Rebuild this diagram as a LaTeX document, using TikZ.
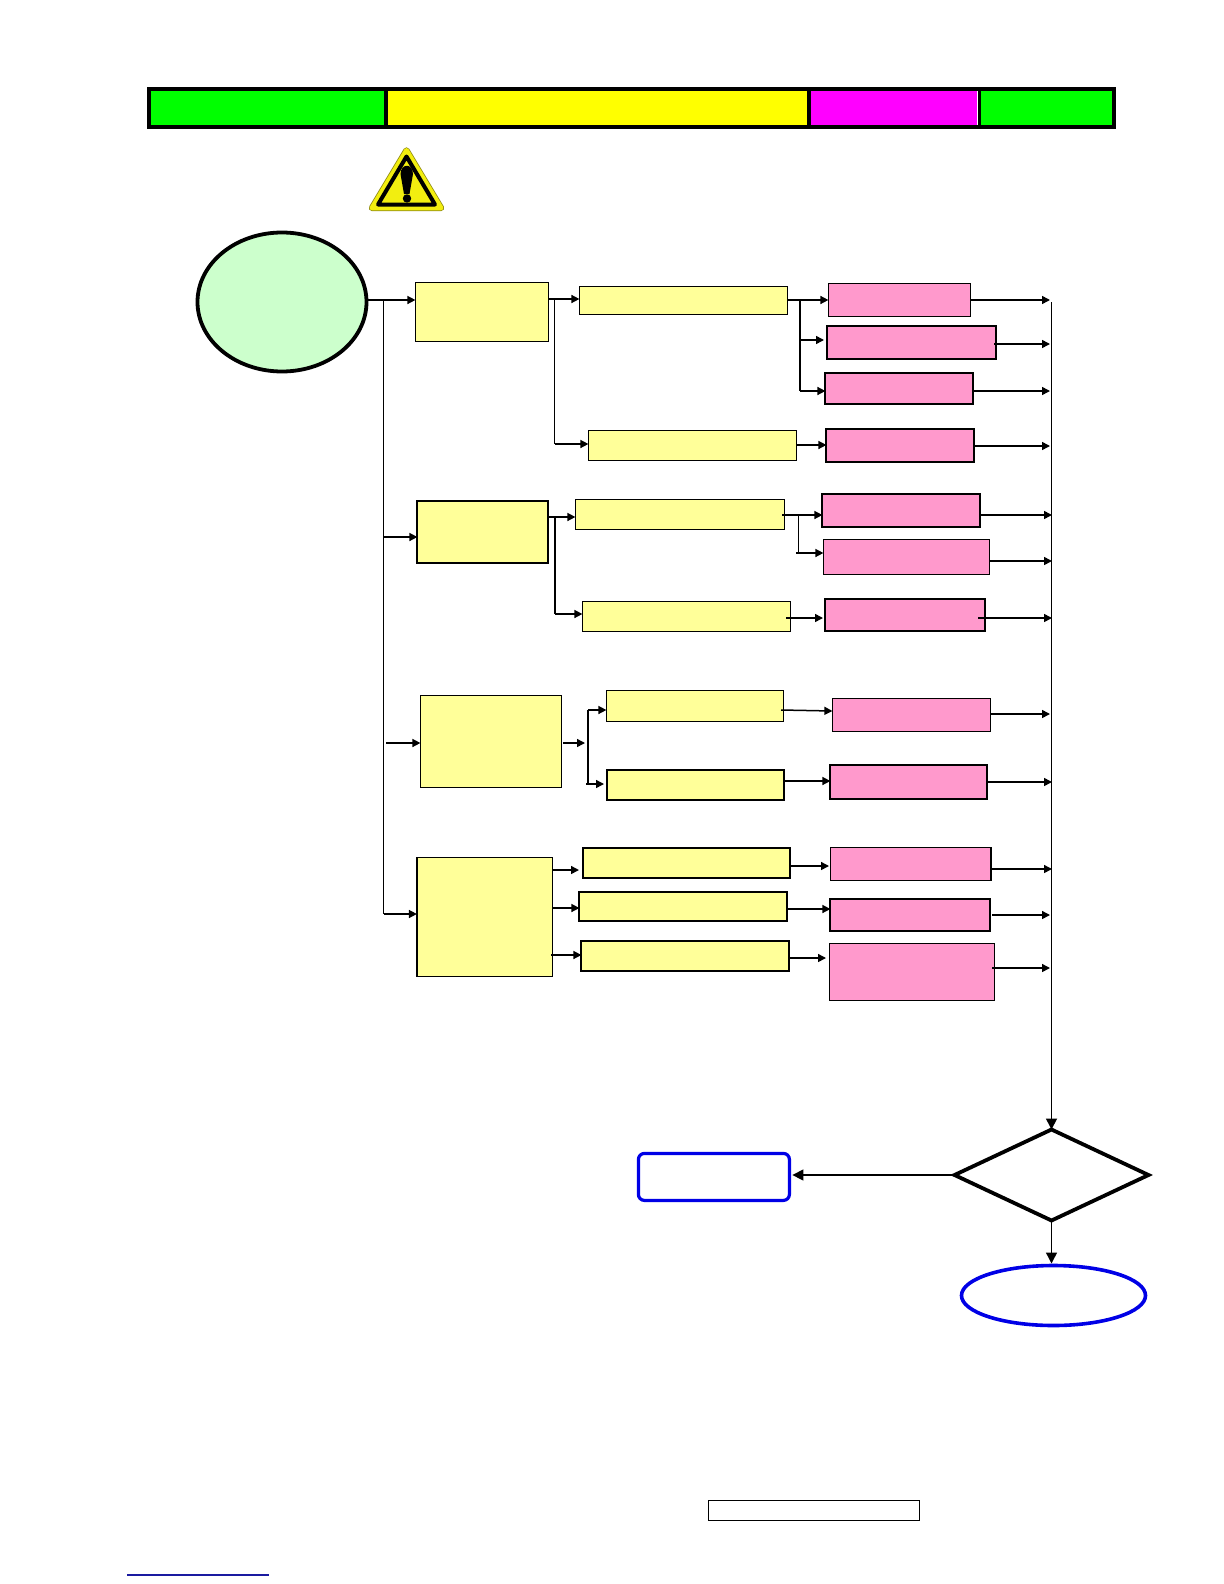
\documentclass[tikz,border=0pt]{standalone}
\usetikzlibrary{shapes.geometric,arrows.meta}
\definecolor{cellgreen}{HTML}{00FF00}
\definecolor{cellyellow}{HTML}{FFFF00}
\definecolor{cellmag}{HTML}{FF00FF}
\definecolor{paleyellow}{HTML}{FFFF99}
\definecolor{palepink}{HTML}{FF99CC}
\definecolor{palegreen}{HTML}{CCFFCC}
\definecolor{bluedeep}{HTML}{0000E6}
\definecolor{linkblue}{HTML}{1A1AA0}
\definecolor{signyellow}{HTML}{F2EE10}
\definecolor{signolive}{HTML}{8F8A10}
\tikzset{
  base/.style={rectangle,inner sep=0pt,outer sep=0pt},
  cell/.style={base},
  ybox/.style={base,draw=black,fill=paleyellow,line width=0.8pt},
  yboxb/.style={base,draw=black,fill=paleyellow,line width=1pt},
  pbox/.style={base,draw=black,fill=palepink,line width=0.8pt},
  pboxb/.style={base,draw=black,fill=palepink,line width=1.05pt},
  arr/.style={draw=black,line width=0.75pt,-{Triangle[length=4pt,width=4pt]}},
  bigarr/.style={draw=black,line width=0.7pt,-{Triangle[length=5.5pt,width=5.5pt]}},
  wire/.style={draw=black,line width=0.6pt},
  wireb/.style={draw=black,line width=0.95pt},
}
\newcommand{\bx}[6]{\node[#2,minimum width={(#5-#3)*0.5pt},minimum height={(#6-#4)*0.5pt}] (#1) at ({(#3+#5)/2+0.4},{(#4+#6)/2+0.4}) {};}
\begin{document}
\begin{tikzpicture}[x=0.5pt,y=-0.5pt]
\useasboundingbox (0,0) rectangle (1224,1584);
% header strip
\bx{hdr}{base,fill=black}{147}{87}{1116}{129}
\bx{hA}{cell,fill=cellgreen}{151}{91}{384}{125}
\bx{hB}{cell,fill=cellyellow}{388}{91}{807}{125}
\bx{hC}{cell,fill=cellmag}{811}{91}{977}{125}
\bx{hS}{cell,fill=white}{977}{91}{977.8}{125}
\bx{hD}{cell,fill=cellgreen}{981}{91}{1112}{125}
% warning sign
\draw[signolive,fill=signolive,line width=3.2pt,line join=round] (406.5,150.5) -- (441,208) -- (372,208) -- cycle;
\draw[signyellow,fill=signyellow,line width=2.4pt,line join=round] (406.5,150.5) -- (441,208) -- (372,208) -- cycle;
\draw[black,fill=signyellow,line width=2pt,line join=round] (406.5,156.5) -- (435,204.5) -- (378,204.5) -- cycle;
\fill[black] (400.5,174) .. controls (401,163) and (412.5,163) .. (413,174) -- (409.5,194) -- (404,194) -- cycle;
\fill[black] (407,198.5) circle[radius=4.2];
% start
\node[ellipse,draw=black,fill=palegreen,line width=1.9pt,inner sep=0pt,outer sep=0pt,minimum width=84.5pt,minimum height=69.5pt] (start) at (282,302) {};
% column boxes
\bx{b1}{ybox}{415}{282}{548}{341}
\bx{b2}{yboxb}{417}{501}{548}{563}
\bx{b3}{ybox}{420}{695}{561}{787}
\bx{b4}{ybox}{416.5}{857}{552}{976}
\bx{y11}{ybox}{579}{286}{787}{314}
\bx{y12}{ybox}{588}{430}{796}{460}
\bx{y21}{ybox}{575}{499}{784}{529}
\bx{y22}{ybox}{582}{601}{790}{631}
\bx{y31}{ybox}{606}{690}{783}{721}
\bx{y32}{yboxb}{607}{770}{784}{800}
\bx{y41}{yboxb}{582.5}{848}{790}{878}
\bx{y42}{yboxb}{579}{892}{787}{921}
\bx{y43}{yboxb}{581}{941}{789}{971}
\bx{p1}{pbox}{828}{283}{970}{316}
\bx{p2}{pboxb}{827}{326}{996}{359}
\bx{p3}{pboxb}{825}{373}{973}{404}
\bx{p4}{pboxb}{826}{429}{974}{462}
\bx{p5}{pboxb}{822}{494}{980}{527}
\bx{p6}{pbox}{823}{539}{989}{574}
\bx{p7}{pboxb}{825}{599}{985}{631}
\bx{p8}{pbox}{832}{698}{990}{731}
\bx{p9}{pboxb}{830}{765}{987}{799}
\bx{p10}{pbox}{830}{847}{990.5}{880}
\bx{p11}{pboxb}{830}{899}{990}{931}
\bx{p12}{pbox}{829}{943}{994}{1000}
% decision and ends
\node[diamond,draw=black,line width=1.9pt,inner sep=0pt,outer sep=0pt,minimum width=97pt,minimum height=45.5pt] (dia) at (1051.5,1175) {};
\bx{retry}{base,draw=bluedeep,line width=1.6pt,rounded corners=3pt}{638}{1153}{789}{1200}
\node[ellipse,draw=bluedeep,line width=1.8pt,inner sep=0pt,outer sep=0pt,minimum width=92pt,minimum height=30pt] (endn) at (1053.5,1295.5) {};
\bx{ref}{base,draw=black,line width=0.5pt}{708}{1500}{919.5}{1520.5}
\coordinate (linkA) at (127,1575);
\coordinate (linkB) at (269,1575);
\draw[linkblue,line width=0.75pt] (linkA) -- (linkB);
% junction coordinates
\coordinate (busa) at (1050,300);
\coordinate (busb) at (1052,300);
\coordinate (bustop) at (1051.5,302);
\coordinate (trA) at (383.5,300);
\coordinate (trB) at (383.5,914);
\coordinate (jb1A) at (554.5,299);
\coordinate (jb1B) at (554.5,444);
\coordinate (jy11A) at (800,300);
\coordinate (jy11B) at (800,391);
\coordinate (jb2A) at (555,517);
\coordinate (jb2B) at (555,614);
\coordinate (jy21A) at (798.5,515);
\coordinate (jy21B) at (798.5,553);
\coordinate (jb3A) at (588,710);
\coordinate (jb3B) at (588,784);
% trunk
\draw[wire] (trA) -- (trB);
\draw[arr] (start.east |- trA) -- (b1.west |- trA);
\draw[arr] (trA |- 0,537) -- (b2.west |- 0,537);
\draw[arr] (386,743) -- (b3.west |- 0,743);
\draw[arr] (trB) -- (b4.west |- trB);
% block 1
\draw[arr] (b1.east |- jb1A) -- (y11.west |- jb1A);
\draw[wireb] (jb1A) -- (jb1B);
\draw[arr] (jb1B) -- (y12.west |- jb1B);
\draw[arr] (y11.east |- jy11A) -- (p1.west |- jy11A);
\draw[wire] (jy11A) -- (jy11B);
\draw[arr] (jy11A |- 0,340) -- (824,340);
\draw[arr] (jy11B) -- (p3.west |- jy11B);
\draw[arr] (y12.east |- 0,445) -- (p4.west |- 0,445);
% block 2
\draw[arr] (b2.east |- jb2A) -- (y21.west |- jb2A);
\draw[wire] (jb2A) -- (jb2B);
\draw[arr] (jb2B) -- (y22.west |- jb2B);
\draw[arr] (782,515) -- (p5.west |- jy21A);
\draw[wire] (jy21A) -- (jy21B);
\draw[arr] (796,553) -- (p6.west |- jy21B);
\draw[arr] (786,618) -- (823,618);
% block 3
\draw[arr] (563,743) -- (585,743);
\draw[wire] (jb3A) -- (jb3B);
\draw[arr] (jb3A) -- (y31.west |- jb3A);
\draw[arr] (586,784) -- (604,784);
\draw[arr] (781,710) -- (p8.west |- 0,711);
\draw[arr] (y32.east |- 0,781) -- (p9.west |- 0,781);
% block 4
\draw[arr] (553,870) -- (579,870);
\draw[arr] (b4.east |- 0,908) -- (y42.west |- 0,908);
\draw[arr] (551,955) -- (y43.west |- 0,955);
\draw[arr] (y41.east |- 0,866) -- (829,866);
\draw[arr] (786,909) -- (p11.west |- 0,909);
\draw[arr] (790,958) -- (826,958);
% exits to bus
\draw[arr] (p1.east |- 0,300) -- (busa |- 0,300);
\draw[arr] (994,344) -- (busa |- 0,344);
\draw[arr] (p3.east |- 0,391) -- (busa |- 0,391);
\draw[arr] (p4.east |- 0,446) -- (busa |- 0,446);
\draw[arr] (p5.east |- 0,515) -- (busb |- 0,515);
\draw[arr] (p6.east |- 0,561) -- (busb |- 0,561);
\draw[arr] (978,618) -- (busb |- 0,618);
\draw[arr] (991,714) -- (busa |- 0,714);
\draw[arr] (p9.east |- 0,782) -- (busb |- 0,782);
\draw[arr] (992,869) -- (busb |- 0,869);
\draw[arr] (992,915) -- (busa |- 0,915);
\draw[arr] (992,968) -- (busa |- 0,968);
% bus and decision
\draw[bigarr,line width=0.85pt] (bustop) -- (dia.north);
\draw[bigarr,shorten >=1.5pt] (dia.west) -- (retry.east |- dia.west);
\draw[bigarr,shorten >=1pt] (dia.south) -- (dia.south |- endn.north);
\end{tikzpicture}
\end{document}
